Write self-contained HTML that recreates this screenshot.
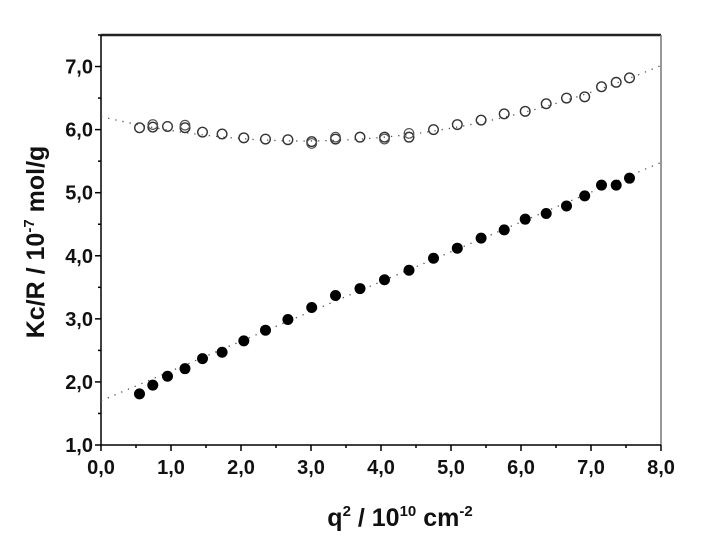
<!DOCTYPE html>
<html><head><meta charset="utf-8"><style>
html,body{margin:0;padding:0;background:#fff;}
svg{display:block;font-family:"Liberation Sans",Arial,sans-serif;}
</style></head><body>
<svg id="chart" width="711" height="549" viewBox="0 0 711 549"></svg>
<script>
const xTicks=[0,1,2,3,4,5,6,7,8];
const xTickLabels=["0,0","1,0","2,0","3,0","4,0","5,0","6,0","7,0","8,0"];
const yTicks=[1,2,3,4,5,6,7];
const yTickLabels=["1,0","2,0","3,0","4,0","5,0","6,0","7,0"];
const qValues=[0.55,0.74,0.95,1.20,1.45,1.73,2.04,2.35,2.67,3.01,3.35,3.70,4.05,4.40,4.75,5.09,5.43,5.76,6.06,6.36,6.65,6.91,7.15,7.36,7.55];
const filledValues=[1.81,1.95,2.09,2.21,2.37,2.47,2.65,2.82,2.99,3.18,3.37,3.48,3.62,3.77,3.96,4.12,4.28,4.41,4.58,4.67,4.79,4.95,5.12,5.12,5.23];
const openValues=[6.03,6.04,6.05,6.03,5.96,5.93,5.87,5.85,5.84,5.81,5.85,5.88,5.88,5.88,6.00,6.08,6.15,6.25,6.29,6.41,6.50,6.52,6.68,6.75,6.82];
const openExtraQ=[0.74,1.20,3.01,3.35,4.05,4.40];
const openExtraValues=[6.08,6.07,5.78,5.88,5.85,5.94];
const linearFit=[1.70,0.4725];      // intercept, slope
const quadFit=[5.82,2.9,0.046];     // min value, vertex q, curvature

const L=101,R=661,T=35,B=445,X0=0,X1=8,Y0=1,Y1=7.5;
const sx=v=>L+(v-X0)/(X1-X0)*(R-L);
const sy=v=>B-(v-Y0)/(Y1-Y0)*(B-T);
const svg=document.getElementById('chart');
const NS='http://www.w3.org/2000/svg';
function mk(tag,attrs,parent){const e=document.createElementNS(NS,tag);for(const k in attrs)e.setAttribute(k,attrs[k]);(parent||svg).appendChild(e);return e;}

const frame=mk('g',{});


mk('line',{x1:L,y1:T,x2:R,y2:T,stroke:'#222','stroke-width':2.5},frame);
mk('line',{x1:R,y1:T,x2:R,y2:B,stroke:'#777','stroke-width':1.5},frame);
mk('line',{x1:L,y1:T,x2:L,y2:B,stroke:'#000','stroke-width':1.5},frame);
mk('line',{x1:L,y1:B,x2:R,y2:B,stroke:'#000','stroke-width':1.5},frame);

const xg=mk('g',{});


xTicks.forEach((t,i)=>{
  mk('line',{x1:sx(t),y1:B,x2:sx(t),y2:B+6,stroke:'#000','stroke-width':1.5},xg);
  if(i<xTicks.length-1){const m=t+0.5;mk('line',{x1:sx(m),y1:B,x2:sx(m),y2:B+3,stroke:'#000','stroke-width':1.5},xg);}
  const tx=mk('text',{x:sx(t),y:B+29,'text-anchor':'middle','font-size':20,'font-weight':'bold',fill:'#111'},xg);
  tx.textContent=xTickLabels[i];
  
  
});
const yg=mk('g',{});


yTicks.forEach((t,i)=>{
  mk('line',{x1:L-6,y1:sy(t),x2:L,y2:sy(t),stroke:'#000','stroke-width':1.5},yg);
  const m=t+0.5;mk('line',{x1:L-3,y1:sy(m),x2:L,y2:sy(m),stroke:'#000','stroke-width':1.5},yg);
  const tx=mk('text',{x:L-8,y:sy(t)+7,'text-anchor':'end','font-size':20,'font-weight':'bold',fill:'#111'},yg);
  tx.textContent=yTickLabels[i];
  
  
});

let p1=`M${sx(0)},${sy(linearFit[0])} L${sx(8)},${sy(linearFit[0]+linearFit[1]*8)}`;
const f1=mk('path',{d:p1,stroke:'#555','stroke-width':1.3,'stroke-dasharray':'1.3 6',fill:'none'});


let p2='';for(let i=0;i<=80;i++){const q=i/10;const v=quadFit[0]+quadFit[2]*(q-quadFit[1])**2;p2+=(i?'L':'M')+sx(q)+','+sy(v)+' ';}
const f2=mk('path',{d:p2,stroke:'#555','stroke-width':1.3,'stroke-dasharray':'1.3 6',fill:'none'});



qValues.forEach((q,i)=>{
  const c=mk('circle',{cx:sx(q),cy:sy(filledValues[i]),r:5.5,fill:'#000'});
  
  
  const o=mk('circle',{cx:sx(q),cy:sy(openValues[i]),r:4.8,fill:'none',stroke:'#333','stroke-width':1.4});
  
  
});
openExtraQ.forEach((q,i)=>{
  const o=mk('circle',{cx:sx(q),cy:sy(openExtraValues[i]),r:4.8,fill:'none',stroke:'#555','stroke-width':1.2});
  
  
});
</script>
<svg width="711" height="549" style="position:absolute;left:0;top:0;pointer-events:none">
<text x="400" y="526" text-anchor="middle" font-size="25" font-weight="bold" fill="#111" font-family="Liberation Sans, Arial, sans-serif">q<tspan dy="-10" font-size="15">2</tspan><tspan dy="10"> / 10</tspan><tspan dy="-10" font-size="15">10</tspan><tspan dy="10"> cm</tspan><tspan dy="-10" font-size="15">-2</tspan></text>
<text transform="translate(44,242) rotate(-90)" text-anchor="middle" font-size="25" font-weight="bold" fill="#111" font-family="Liberation Sans, Arial, sans-serif">Kc/R / 10<tspan dy="-10" font-size="15">-7</tspan><tspan dy="10"> mol/g</tspan></text>
</svg>
</body></html>
